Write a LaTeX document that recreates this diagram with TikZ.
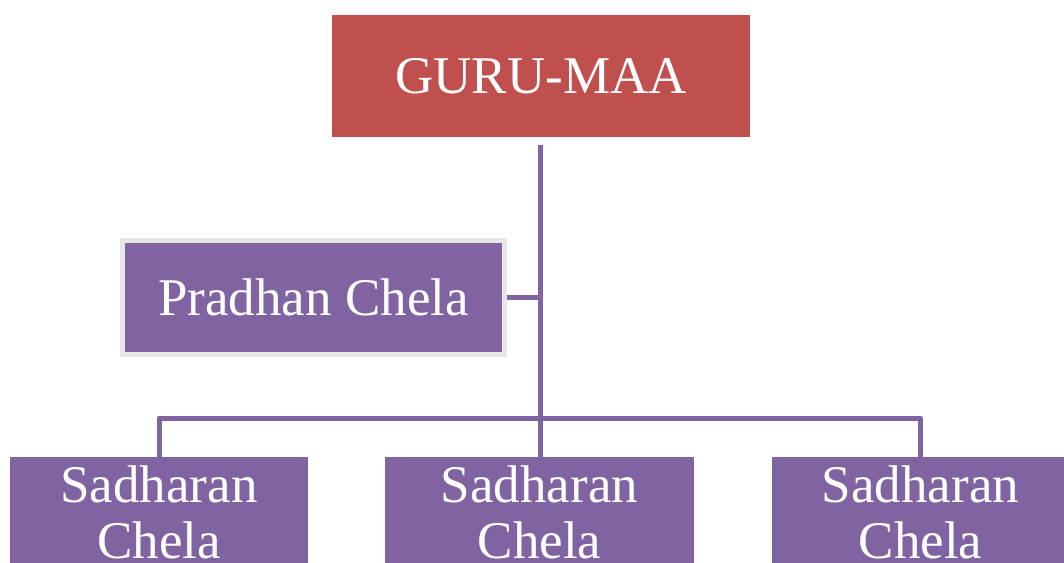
\documentclass[tikz,border=0pt]{standalone}
\usepackage{fontspec}
\setmainfont{Liberation Serif}
\definecolor{gurured}{HTML}{C0504D}
\definecolor{chelapurple}{HTML}{8064A2}
\definecolor{framegrey}{HTML}{E6E6E6}
\begin{document}
\begin{tikzpicture}[x=1pt,y=-1pt,
  lbl/.style={text=white,font=\fontsize{53}{56}\selectfont,inner sep=0pt},
  gurubox/.style={lbl,fill=gurured,minimum width=418pt,minimum height=122pt},
  headbox/.style={lbl,fill=chelapurple,draw=framegrey,line width=5pt,
    minimum width=382pt,minimum height=114pt},
  memberbox/.style={lbl,fill=chelapurple,anchor=north,align=center,
    text width=#1,inner ysep=9pt,inner xsep=0pt},
  memberbox/.default=298pt,
  conn/.style={draw=chelapurple,line width=5pt,line join=round}]
\useasboundingbox (0,0) rectangle (1064,562);
\clip (0,0) rectangle (1064,562);
\fill[white] (0,0) rectangle (1064,562);

% boxes
\node[gurubox] (guru) at (541,76) {GURU-MAA};
\node[headbox] (pradhan) at (313.5,297) {Pradhan Chela};
\node[memberbox] (s1) at (159,457) {Sadharan\\Chela};
\node[memberbox=309pt] (s2) at (539.5,457) {Sadharan\\Chela};
\node[memberbox] (s3) at (920.5,457) {Sadharan\\Chela};

% hub of the lower branches
\coordinate (bar) at (540,418);

% connectors
\draw[conn] (guru.south -| bar) ++(0,8) -- (bar |- pradhan.east) -- (pradhan.east);
\draw[conn] (guru.south -| bar) ++(0,8) -- (bar);
\draw[conn] (bar) -| ([yshift=-7pt]s1.north);
\draw[conn] (bar) -- ([yshift=-7pt]s2.north -| bar);
\draw[conn] (bar) -| ([yshift=-7pt]s3.north);
\end{tikzpicture}
\end{document}
